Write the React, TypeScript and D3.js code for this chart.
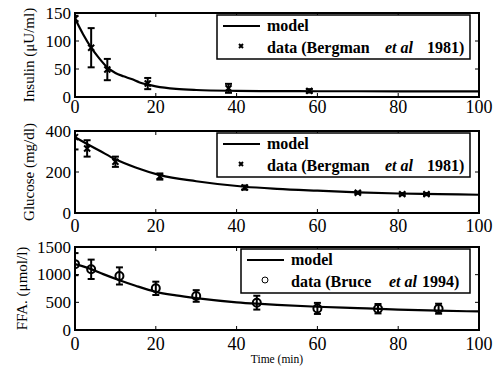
import * as d3 from "d3";

// time axis shared by the three panels
const timeTicks = [0, 20, 40, 60, 80, 100];

// insulin (Bergman et al 1981)
const insulinT = [0, 4, 8, 18, 38, 58];
const insulinV = [140, 88, 49, 24, 15.5, 11];
const insulinErr = [5, 35, 19, 10, 8, 3];
const insulinModelT = [0, 2, 4, 6, 8, 10, 12, 14, 16, 18, 20, 25, 30, 40, 50, 60, 80, 100];
const insulinModelV = [140, 112, 88, 69, 53, 43, 37, 32, 26, 22, 19, 14.5, 12.5, 11, 10.5, 10.3, 10.2, 10.2];
const insulinTicks = [0, 50, 100, 150];

// glucose (Bergman et al 1981)
const glucoseT = [0, 3, 10, 21, 42, 70, 81, 87];
const glucoseV = [370, 315, 250, 178, 124, 99, 92, 92];
const glucoseErr = [60, 40, 25, 15, 10, 5, 5, 5];
const glucoseModelT = [0, 3, 6, 10, 15, 21, 30, 42, 50, 60, 70, 80, 90, 100];
const glucoseModelV = [370, 337, 305, 262, 222, 185, 155, 128, 118, 109, 101, 95, 92, 89];
const glucoseTicks = [0, 200, 400];

// FFA (Bruce et al 1994)
const ffaT = [0, 4, 11, 20, 30, 45, 60, 75, 90];
const ffaV = [1190, 1097, 977, 753, 615, 494, 390, 385, 385];
const ffaErr = [200, 175, 155, 120, 105, 125, 100, 85, 90];
const ffaModelT = [0, 2, 4, 7, 11, 15, 20, 25, 30, 40, 45, 50, 60, 70, 80, 90, 100];
const ffaModelV = [1190, 1150, 1100, 1010, 900, 800, 690, 625, 575, 500, 475, 455, 420, 395, 370, 350, 335];
const ffaTicks = [0, 500, 1000, 1500];

const FONT = '"Liberation Serif", "Times New Roman", serif';
const LEFT = 75,
  RIGHT = 479;

const panels = [
  {
    id: "ins",
    top: 13,
    bottom: 97,
    max: 150,
    ticks: insulinTicks,
    label: "Insulin (\u03bcU/ml)",
    t: insulinT,
    v: insulinV,
    err: insulinErr,
    mt: insulinModelT,
    mv: insulinModelV,
    marker: "x",
    source: "data (Bergman",
    year: "1981)",
    legLeft: 217,
    etX: 385,
    yearX: 427,
    labelGap: 16,
    labelX: 34,
  },
  {
    id: "glu",
    top: 131,
    bottom: 213,
    max: 400,
    ticks: glucoseTicks,
    label: "Glucose (mg/dl)",
    t: glucoseT,
    v: glucoseV,
    err: glucoseErr,
    mt: glucoseModelT,
    mv: glucoseModelV,
    marker: "x",
    source: "data (Bergman",
    year: "1981)",
    legLeft: 217,
    etX: 385,
    yearX: 427,
    labelGap: 19,
    labelX: 34,
  },
  {
    id: "ffa",
    top: 247,
    bottom: 330,
    max: 1500,
    ticks: ffaTicks,
    label: "FFA. (\u03bcmol/l)",
    t: ffaT,
    v: ffaV,
    err: ffaErr,
    mt: ffaModelT,
    mv: ffaModelV,
    marker: "o",
    source: "data (Bruce",
    year: "1994)",
    legLeft: 241,
    etX: 389,
    yearX: 422,
    labelGap: 20,
    labelX: 27,
  },
];

function Marker({ kind, x, y, s }: { kind: string; x: number; y: number; s: number }) {
  if (kind === "o") return <circle cx={x} cy={y} r={s} fill="none" stroke="#000" strokeWidth={2} />;
  return (
    <path
      d={`M${x - s},${y - s}L${x + s},${y + s}M${x - s},${y + s}L${x + s},${y - s}`}
      stroke="#000"
      strokeWidth={2}
    />
  );
}

function Panel({ p }: { p: (typeof panels)[number] }) {
  const x = d3.scaleLinear().domain([0, 100]).range([LEFT, RIGHT]);
  const y = d3.scaleLinear().domain([0, p.max]).range([p.bottom, p.top]);
  const line = d3
    .line<number>()
    .x((_, i) => x(p.mt[i]))
    .y((d) => y(d))
    .curve(d3.curveMonotoneX);
  const legTop = p.top + 2;
  const legRight = RIGHT - 9;
  const row1 = legTop + 11;
  const row2 = legTop + 33;
  const tk = 4;
  return (
    <g>
      <defs>
        <clipPath id={`clip-${p.id}`}>
          <rect x={LEFT} y={p.top} width={RIGHT - LEFT} height={p.bottom - p.top} />
        </clipPath>
      </defs>
      <g clipPath={`url(#clip-${p.id})`}>
        <path d={line(p.mv) || ""} fill="none" stroke="#000" strokeWidth={2.2} />
        {p.t.map((t, i) => {
          const cx = x(t);
          const y0 = y(p.v[i] - p.err[i]);
          const y1 = y(p.v[i] + p.err[i]);
          return (
            <g key={i} stroke="#000" strokeWidth={2}>
              <line x1={cx} x2={cx} y1={y0} y2={y1} />
              <line x1={cx - 3.5} x2={cx + 3.5} y1={y0} y2={y0} />
              <line x1={cx - 3.5} x2={cx + 3.5} y1={y1} y2={y1} />
              <Marker kind={p.marker} x={cx} y={y(p.v[i])} s={p.marker === "o" ? 4 : 3} />
            </g>
          );
        })}
      </g>
      {/* box and inward ticks */}
      <rect x={LEFT} y={p.top} width={RIGHT - LEFT} height={p.bottom - p.top} fill="none" stroke="#000" strokeWidth={2} />
      {timeTicks.map((t) => (
        <g key={t} stroke="#000" strokeWidth={1}>
          <line x1={x(t)} x2={x(t)} y1={p.bottom} y2={p.bottom - tk} />
          <line x1={x(t)} x2={x(t)} y1={p.top} y2={p.top + tk} />
        </g>
      ))}
      {p.ticks.map((v) => (
        <g key={v} stroke="#000" strokeWidth={1}>
          <line x1={LEFT} x2={LEFT + tk} y1={y(v)} y2={y(v)} />
          <line x1={RIGHT} x2={RIGHT - tk} y1={y(v)} y2={y(v)} />
        </g>
      ))}
      {p.ticks.map((v) => (
        <text key={v} x={LEFT - 4} y={y(v)} dy="0.33em" textAnchor="end" fontSize={17}>
          {v}
        </text>
      ))}
      {timeTicks.map((t) => (
        <text key={t} x={x(t)} y={p.bottom + p.labelGap} textAnchor="middle" fontSize={18}>
          {t}
        </text>
      ))}
      <text
        transform={`translate(${p.labelX},${(p.top + p.bottom) / 2}) rotate(-90)`}
        textAnchor="middle"
        fontSize={15}
      >
        {p.label}
      </text>
      {/* legend */}
      <rect x={p.legLeft} y={legTop} width={legRight - p.legLeft} height={44} fill="#fff" stroke="#000" strokeWidth={1.5} />
      <line x1={p.legLeft + 6} x2={p.legLeft + 43} y1={row1} y2={row1} stroke="#000" strokeWidth={2.2} />
      {p.marker === "o" ? (
        <circle cx={p.legLeft + 24} cy={row2 - 2} r={3} fill="none" stroke="#000" strokeWidth={1} />
      ) : (
        <Marker kind="x" x={p.legLeft + 24} y={row2 - 2} s={2} />
      )}
      <g fontSize={16} fontWeight="bold">
        <text x={p.legLeft + 50} y={row1 + 5}>
          model
        </text>
        <text x={p.legLeft + 50} y={row2 + 5}>
          {p.source}
        </text>
        <text x={p.etX} y={row2 + 5} fontStyle="italic">
          et al
        </text>
        <text x={p.yearX} y={row2 + 5}>
          {p.year}
        </text>
      </g>
    </g>
  );
}

export default function App() {
  return (
    <svg
      width={496}
      height={374}
      style={{ position: "absolute", left: 0, top: 0, background: "#fff", fontFamily: FONT }}
    >
      {panels.map((p) => (
        <Panel key={p.id} p={p} />
      ))}
      <text x={(LEFT + RIGHT) / 2} y={363} textAnchor="middle" fontSize={11.5}>
        Time (min)
      </text>
    </svg>
  );
}
